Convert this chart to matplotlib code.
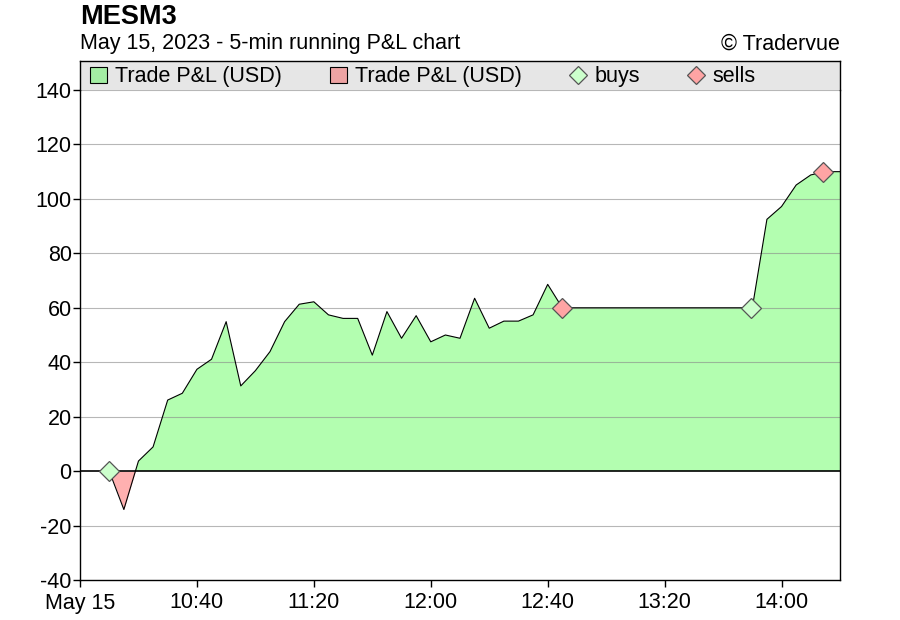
import datetime as dt
import matplotlib
matplotlib.use("Agg")
import matplotlib.pyplot as plt
from matplotlib.patches import Patch
from matplotlib.lines import Line2D

plt.rcParams['font.family'] = ['Liberation Sans', 'DejaVu Sans']
plt.rcParams['axes.unicode_minus'] = False

# 5-min running P&L (USD), May 15 2023
times = ["10:10", "10:15", "10:20", "10:25", "10:30", "10:35", "10:40", "10:45",
         "10:50", "10:55", "11:00", "11:05", "11:10", "11:15", "11:20", "11:25",
         "11:30", "11:35", "11:40", "11:45", "11:50", "11:55", "12:00", "12:05",
         "12:10", "12:15", "12:20", "12:25", "12:30", "12:35", "12:40", "12:45",
         "12:50", "12:55", "13:00", "13:05", "13:10", "13:15", "13:20", "13:25",
         "13:30", "13:35", "13:40", "13:45", "13:50", "13:55", "14:00", "14:05",
         "14:10", "14:15", "14:20"]
pnl = [0, -14.1, 3.7, 8.9, 26.1, 28.6, 37.4, 41.1,
       54.9, 31.3, 36.9, 43.9, 54.9, 61.3, 62.2, 57.4,
       56.1, 56.1, 42.6, 58.6, 48.8, 57.1, 47.5, 50.0,
       48.8, 63.5, 52.5, 55.1, 55.1, 57.4, 68.6, 60,
       60, 60, 60, 60, 60, 60, 60, 60,
       60, 60, 60, 60, 60, 92.5, 97.2, 105.1,
       108.8, 110.0, 110.0]

buy_times = ["10:10", "13:49:30"]
buy_vals = [0, 60]
sell_times = ["12:45", "14:14:20"]
sell_vals = [60, 110]

tick_times = ["10:00", "10:40", "11:20", "12:00", "12:40", "13:20", "14:00"]


def to_dt(s):
    parts = [int(p) for p in s.split(":")]
    while len(parts) < 3:
        parts.append(0)
    return dt.datetime(2023, 5, 15, parts[0], parts[1], parts[2])


x = [to_dt(t) for t in times]
xb = [to_dt(t) for t in buy_times]
xs = [to_dt(t) for t in sell_times]
xt = [to_dt(t) for t in tick_times]

GREEN = "#b3feb0"
RED = "#ffb0b0"
BUY = "#ccffcc"
SELL = "#ffa4a4"
FS = 15.5

fig = plt.figure(figsize=(9, 6.2), dpi=100)
ax = fig.add_axes([80 / 900, 1 - 580 / 620, 760 / 900, 490 / 620])

ax.fill_between(x, pnl, 0, where=[v >= 0 for v in pnl], interpolate=True,
                color=GREEN, lw=0, zorder=1)
ax.fill_between(x, pnl, 0, where=[v <= 0 for v in pnl], interpolate=True,
                color=RED, lw=0, zorder=1)
ax.plot(x, pnl, color="black", lw=0.8, zorder=3)
ax.axhline(0, color="black", lw=1.2, zorder=2)

for yv in range(-20, 141, 20):
    if yv != 0:
        ax.axhline(yv, color="#888888", lw=0.8, alpha=0.6, zorder=2)

ax.plot(xb, buy_vals, ls="none", marker="D", ms=10, mfc=BUY, mec="#555555",
        mew=0.9, zorder=5, clip_on=False)
ax.plot(xs, sell_vals, ls="none", marker="D", ms=10, mfc=SELL, mec="#555555",
        mew=0.9, zorder=5, clip_on=False)

ax.set_xlim(to_dt("10:00"), to_dt("14:20"))
ax.set_ylim(-40, 140)
ax.set_yticks(range(-40, 141, 20))
ax.set_xticks(xt)
ax.set_xticklabels(["May 15"] + [t for t in tick_times[1:]])
ax.tick_params(axis="both", direction="out", length=5, width=1,
               labelsize=FS, pad=1)
ax.tick_params(axis="x", pad=4)
for sp in ax.spines.values():
    sp.set_linewidth(1)
ax.spines["top"].set_visible(False)

# legend band above the plot area
lax = fig.add_axes([80 / 900, 1 - 90 / 620, 760 / 900, 29 / 620])
lax.set_facecolor("#e6e6e6")
lax.set_xticks([])
lax.set_yticks([])
lax.spines["bottom"].set_visible(False)
for s in ["top", "left", "right"]:
    lax.spines[s].set_linewidth(1)

handles = [
    Patch(facecolor="#a3eea3", edgecolor="black", lw=0.8),
    Patch(facecolor="#eea3a3", edgecolor="black", lw=0.8),
    Line2D([], [], ls="none", marker="D", ms=9, mfc=BUY, mec="#555555", mew=0.9),
    Line2D([], [], ls="none", marker="D", ms=9, mfc=SELL, mec="#555555", mew=0.9),
]
labels = ["Trade P&L (USD)", "Trade P&L (USD)", "buys", "sells"]
lax.legend(handles, labels, ncol=4, loc="center left", bbox_to_anchor=(0, 0.45),
           frameon=False, fontsize=FS, handlelength=0.8, handleheight=0.8,
           handletextpad=0.37, columnspacing=2.2, borderpad=0,
           borderaxespad=0.47)

fig.text(80 / 900, 1 - 17 / 620, "MESM3", fontsize=19.5, fontweight="bold",
         va="center", ha="left")
fig.text(80 / 900, 1 - 44 / 620, "May 15, 2023 - 5-min running P&L chart",
         fontsize=FS, va="center", ha="left")
fig.text(840 / 900, 1 - 44 / 620, "\u00a9 Tradervue", fontsize=FS,
         va="center", ha="right")

fig.savefig("out.png", dpi=100, facecolor="white")
